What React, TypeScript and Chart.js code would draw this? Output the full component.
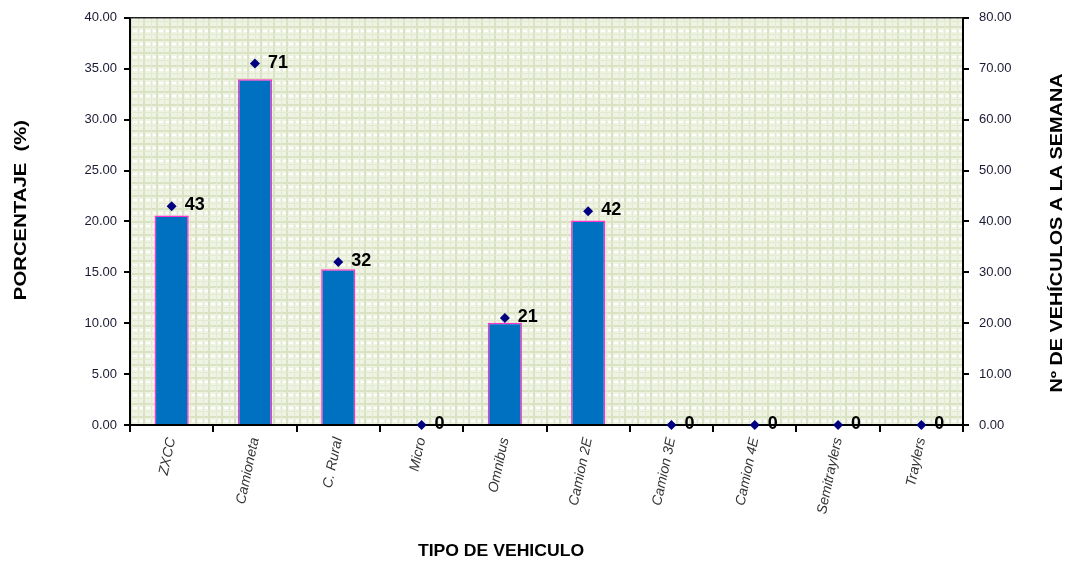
import React, { useEffect, useRef } from "react";
import { Chart, registerables } from "chart.js";

Chart.register(...registerables);

const categories = [
  "ZXCC",
  "Camioneta",
  "C. Rural",
  "Micro",
  "Omnibus",
  "Camion 2E",
  "Camion 3E",
  "Camion 4E",
  "Semitraylers",
  "Traylers",
];
const percentages = [20.57, 33.97, 15.31, 0, 10.05, 20.1, 0, 0, 0, 0];
const vehicleCounts = [43, 71, 32, 0, 21, 42, 0, 0, 0, 0];
const leftTitle = "PORCENTAJE  (%)";
const rightTitle = "Nº DE VEHÍCULOS A LA SEMANA";
const bottomTitle = "TIPO DE VEHICULO";

function makePattern(): CanvasPattern | string {
  const c = document.createElement("canvas");
  c.width = 13;
  c.height = 13;
  const g = c.getContext("2d");
  if (!g) return "#eef2e2";
  g.fillStyle = "#eff3e4";
  g.fillRect(0, 0, 13, 13);
  g.fillStyle = "#d9e3c3";
  g.fillRect(0, 0, 13, 2);
  g.fillRect(0, 0, 2, 13);
  g.fillStyle = "#e3ead1";
  g.fillRect(0, 8, 13, 1);
  g.fillRect(8, 0, 1, 13);
  g.fillStyle = "#ffffff";
  g.fillRect(3, 4, 4, 2);
  g.fillRect(10, 4, 3, 2);
  const p = g.createPattern(c, "repeat");
  return p || "#eef2e2";
}

export default function App() {
  const ref = useRef<HTMLCanvasElement | null>(null);

  useEffect(() => {
    document.body.style.margin = "0";
    const canvas = ref.current;
    if (!canvas) return;
    const pattern = makePattern();

    const custom = {
      id: "custom",
      beforeDraw(chart: any) {
        const { ctx, chartArea: a } = chart;
        ctx.save();
        ctx.fillStyle = pattern;
        ctx.fillRect(a.left, a.top, a.right - a.left, a.bottom - a.top);
        ctx.restore();
      },
      afterDatasetsDraw(chart: any) {
        const { ctx } = chart;
        const meta = chart.getDatasetMeta(0);
        ctx.save();
        ctx.font = "bold 18px 'Liberation Sans Narrow', 'Liberation Sans', Arial, sans-serif";
        ctx.fillStyle = "#000";
        ctx.textAlign = "left";
        ctx.textBaseline = "middle";
        meta.data.forEach((el: any, i: number) => {
          ctx.fillText(String(vehicleCounts[i]), el.x + 13, el.y - 1);
        });
        ctx.restore();
      },
      afterDraw(chart: any) {
        const { ctx, chartArea: a } = chart;
        ctx.save();
        ctx.strokeStyle = "#222";
        ctx.lineWidth = 1.5;
        ctx.beginPath();
        ctx.moveTo(a.left, a.top);
        ctx.lineTo(a.right, a.top);
        ctx.stroke();

        ctx.fillStyle = "#000";
        ctx.font = "bold 16px 'Liberation Sans', Arial, sans-serif";
        ctx.textAlign = "center";
        ctx.textBaseline = "middle";
        ctx.save();
        ctx.translate(501, 551);
        ctx.scale(1.1, 1.05);
        ctx.fillText(bottomTitle, 0, 0);
        ctx.restore();

        ctx.save();
        ctx.translate(22, 210);
        ctx.rotate(-Math.PI / 2);
        ctx.scale(1.27, 1);
        ctx.fillText(leftTitle, 0, 0);
        ctx.restore();

        ctx.save();
        ctx.translate(1058, 233);
        ctx.rotate(-Math.PI / 2);
        ctx.scale(1.24, 1);
        ctx.fillText(rightTitle, 0, 0);
        ctx.restore();
        ctx.restore();
      },
    };

    const tickFont = { family: "'Liberation Sans', Arial, sans-serif", size: 12 };

    const chart = new Chart(canvas, {
      data: {
        labels: categories,
        datasets: [
          {
            type: "line",
            label: "Vehículos",
            data: vehicleCounts,
            yAxisID: "y2",
            showLine: false,
            pointStyle: "rectRot",
            pointRadius: 5,
            pointBackgroundColor: "#000080",
            pointBorderColor: "#000080",
            pointBorderWidth: 0,
            clip: false,
            order: 0,
          } as any,
          {
            type: "bar",
            label: "Porcentaje",
            data: percentages,
            yAxisID: "y",
            backgroundColor: "#0070c0",
            borderColor: "#ff33cc",
            borderWidth: 1.5,
            categoryPercentage: 1,
            barPercentage: 0.41,
            order: 1,
          } as any,
        ],
      },
      options: {
        responsive: false,
        animation: false,
        devicePixelRatio: 1,
        layout: { padding: { top: 17, left: 0, right: 0, bottom: 0 } },
        plugins: {
          legend: { display: false },
          tooltip: { enabled: false },
        },
        scales: {
          x: {
            offset: true,
            grid: {
              offset: true,
              drawOnChartArea: false,
              drawTicks: true,
              tickLength: 7,
              color: "#000",
              lineWidth: 2,
            },
            border: { display: true, color: "#000", width: 2 },
            ticks: {
              minRotation: 78,
              maxRotation: 78,
              autoSkip: false,
              padding: 4,
              color: "#333",
              font: { ...tickFont, size: 14, style: "italic" },
            },
            afterFit(scale: any) {
              scale.height = 141;
            },
          },
          y: {
            position: "left",
            min: 0,
            max: 40,
            ticks: {
              stepSize: 5,
              padding: 7,
              color: "#1a1a33",
              font: { ...tickFont, size: 13 },
              callback: (v: any) => Number(v).toFixed(2),
            },
            grid: {
              drawOnChartArea: false,
              tickLength: 6,
              color: "#000",
              lineWidth: 2,
            },
            border: { display: true, color: "#000", width: 2 },
            afterFit(scale: any) {
              scale.width = 130;
            },
          },
          y2: {
            position: "right",
            min: 0,
            max: 80,
            ticks: {
              stepSize: 10,
              padding: 10,
              color: "#1a1a33",
              font: { ...tickFont, size: 13 },
              callback: (v: any) => Number(v).toFixed(2),
            },
            grid: {
              drawOnChartArea: false,
              tickLength: 6,
              color: "#000",
              lineWidth: 2,
            },
            border: { display: true, color: "#000", width: 2 },
            afterFit(scale: any) {
              scale.width = 105;
            },
          },
        },
      } as any,
      plugins: [custom],
    });

    return () => chart.destroy();
  }, []);

  return (
    <div style={{ width: 1068, height: 566, background: "#fff" }}>
      <canvas ref={ref} width={1068} height={566} />
    </div>
  );
}
